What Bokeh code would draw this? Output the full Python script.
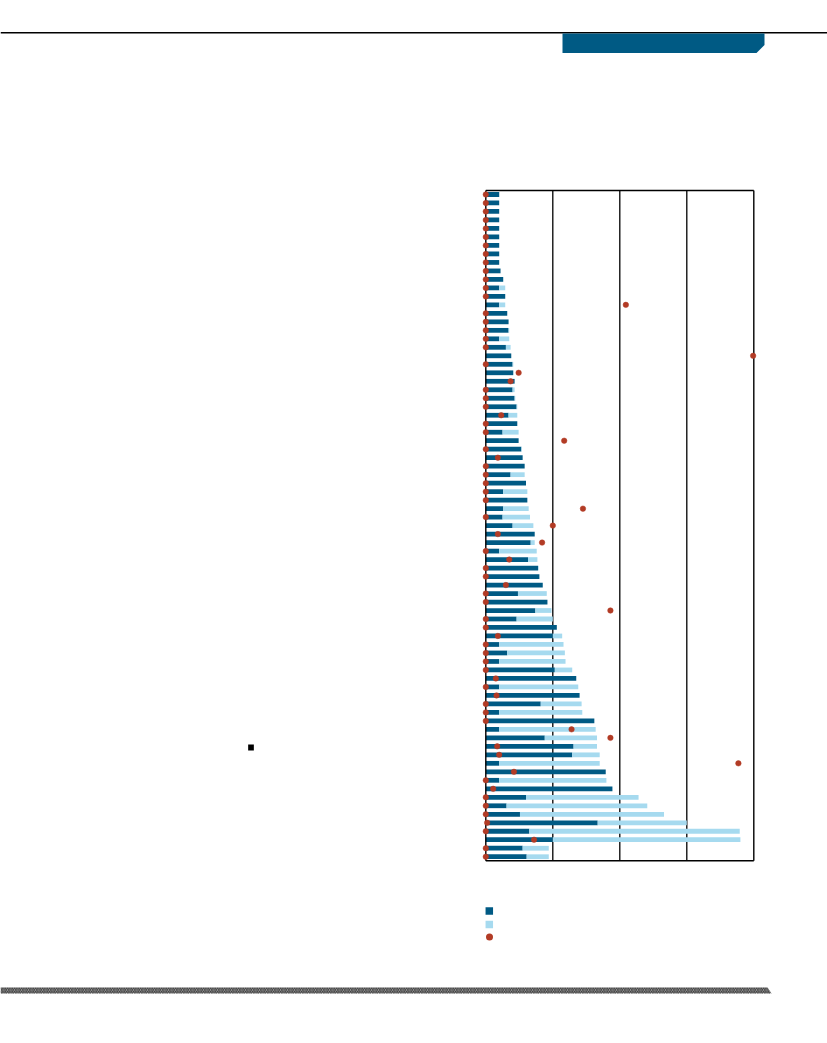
from bokeh.plotting import figure
from bokeh.models import Range1d, ColumnDataSource
from bokeh.embed import file_html
from bokeh.resources import INLINE

# ---------------- data (79 rows, top to bottom) ----------------
dark = [0.20, 0.20, 0.20, 0.20, 0.20, 0.20, 0.20, 0.20, 0.20, 0.22,
        0.26, 0.20, 0.29, 0.20, 0.32, 0.34, 0.34, 0.20, 0.30, 0.38,
        0.40, 0.41, 0.43, 0.40, 0.43, 0.46, 0.34, 0.47, 0.25, 0.49,
        0.53, 0.55, 0.58, 0.37, 0.60, 0.26, 0.62, 0.26, 0.25, 0.40,
        0.73, 0.67, 0.20, 0.63, 0.78, 0.80, 0.85, 0.48, 0.92, 0.74,
        0.46, 1.06, 1.00, 0.20, 0.32, 0.20, 1.03, 1.35, 0.20, 1.40,
        0.82, 0.20, 1.62, 0.20, 0.88, 1.31, 1.29, 0.20, 1.79, 0.20,
        1.89, 0.60, 0.31, 0.51, 1.67, 0.65, 1.00, 0.55, 0.61]
total = [0.20, 0.20, 0.20, 0.20, 0.20, 0.20, 0.20, 0.20, 0.20, 0.22,
         0.26, 0.29, 0.29, 0.29, 0.32, 0.34, 0.35, 0.35, 0.37, 0.38,
         0.41, 0.41, 0.43, 0.43, 0.44, 0.47, 0.47, 0.47, 0.49, 0.49,
         0.54, 0.55, 0.58, 0.58, 0.60, 0.62, 0.62, 0.64, 0.66, 0.71,
         0.73, 0.73, 0.76, 0.77, 0.79, 0.80, 0.85, 0.91, 0.92, 0.98,
         1.00, 1.06, 1.14, 1.16, 1.18, 1.19, 1.29, 1.35, 1.38, 1.40,
         1.43, 1.44, 1.62, 1.64, 1.66, 1.66, 1.70, 1.70, 1.79, 1.80,
         1.89, 2.28, 2.41, 2.66, 3.00, 3.79, 3.80, 0.94, 0.94]
dots = [0, 0, 0, 0, 0, 0, 0, 0, 0, 0,
        0, 0, 0, 2.09, 0, 0, 0, 0, 0, 3.99,
        0, 0.49, 0.37, 0, 0, 0, 0.23, 0, 0, 1.17,
        0, 0.18, 0, 0, 0, 0, 0, 1.45, 0, 1.00,
        0.18, 0.84, 0, 0.35, 0, 0, 0.30, 0, 0, 1.86,
        0, 0, 0.18, 0, 0, 0, 0, 0.15, 0, 0.16,
        0, 0, 0, 1.28, 1.86, 0.17, 0.20, 3.77, 0.42, 0,
        0.11, 0, 0, 0, 0.02, 0, 0.72, 0, 0]
x_ticks = [0, 1, 2, 3, 4]

rows = list(range(len(dark)))

DARK = "#005A84"
LIGHT = "#A6DAEF"
RED = "#B23B25"

# ---------------- page figure (page pixel coords) ----------------
W, H = 827, 1043
p = figure(width=W, height=H, x_range=Range1d(0, W), y_range=Range1d(H, 0),
           x_axis_location=None, y_axis_location=None, toolbar_location=None,
           output_backend="svg", min_border=0, outline_line_color=None)
p.grid.visible = False
p.background_fill_color = "white"

# chart coordinate system (value axis 0..4, one unit per row)
X0, SX = 485.3, 67.0
Y0, SY = 194.0, 8.49
p.extra_x_ranges = {"cx": Range1d((0 - X0) / SX, (W - X0) / SX)}
p.extra_y_ranges = {"cy": Range1d((H - Y0) / SY, (0 - Y0) / SY)}
ck = dict(x_range_name="cx", y_range_name="cy")

top_edge, bot_edge = -0.47, len(rows) - 1 + 0.47

# header
p.segment(x0=[0], y0=[32.3], x1=[827], y1=[32.3], line_color="black", line_width=1.5)
p.patch(x=[562, 764, 764, 756, 562], y=[33, 33, 44.5, 52.5, 52.5],
        fill_color=DARK, line_color=None)

# inner gridlines (behind bars)
p.segment(x0=x_ticks[1:4], y0=[top_edge] * 3, x1=x_ticks[1:4], y1=[bot_edge] * 3,
          line_color="black", line_width=1.3, **ck)

src = ColumnDataSource(dict(y=rows, dark=dark, total=total, dots=dots))
p.hbar(y="y", left=0, right="dark", height=0.56, source=src,
       fill_color=DARK, line_color=None, **ck)
p.hbar(y="y", left="dark", right="total", height=0.56, source=src,
       fill_color=LIGHT, line_color=None, **ck)

# frame box
p.segment(x0=[x_ticks[0], x_ticks[-1], x_ticks[0], x_ticks[0]],
          y0=[top_edge, top_edge, top_edge, bot_edge],
          x1=[x_ticks[0], x_ticks[-1], x_ticks[-1], x_ticks[-1]],
          y1=[bot_edge, bot_edge, top_edge, bot_edge],
          line_color="black", line_width=1.4, **ck)

p.scatter(x="dots", y="y", source=src, size=5.5, marker="circle",
          fill_color=RED, line_color=RED, line_width=0.5, **ck)

# legend markers
p.rect(x=[488.8, 488.8], y=[910.5, 924], width=7.5, height=7.5,
       fill_color=[DARK, LIGHT], line_color=None)
p.scatter(x=[489], y=[936.5], size=7, fill_color=RED, line_color=None)

# small black square
p.rect(x=[250.5], y=[747], width=5.7, height=6, fill_color="black", line_color=None)

# hatched footer rule
p.patch(x=[0, 767, 771, 0], y=[987, 987, 993, 993], fill_color="#e6e6e6",
        line_color=None, hatch_pattern="\\", hatch_color="#333333",
        hatch_scale=3.5, hatch_weight=1.2)

open("out.html", "w").write(file_html(p, INLINE))
